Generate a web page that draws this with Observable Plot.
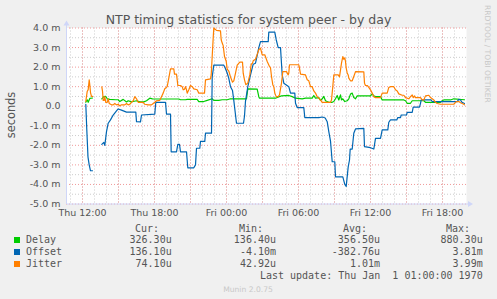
<!DOCTYPE html>
<html><head><meta charset="utf-8">
<script src="https://cdn.jsdelivr.net/npm/d3@7"></script>
<script src="https://cdn.jsdelivr.net/npm/@observablehq/plot@0.6"></script>
<style>
body{margin:0;background:#f0f0f0;}
#wrap{position:relative;width:497px;height:299px;overflow:hidden;background:#f0f0f0;}
#wrap svg{position:absolute;left:0;}
</style></head><body><div id="wrap"></div>
<script>
// Time is in hours since Thu 00:00 (1970-01-01 UTC, a Thursday). Values in milliseconds.
const delayHours = [12.275,12.39,12.475,12.608,12.833,13.2,13.608,13.775,13.94,14.06,14.275,14.775,14.975,15.108,15.392,15.667,15.808,16.083,16.225,16.5,16.775,17.108,17.333,17.608,17.833,20.025,20.167,20.583,20.725,21.558,21.69,22.108,22.392,22.808,22.942,23.358,23.642,24.058,24.333,25.667,25.775,26.558,26.692,26.75,28.083,28.333,28.583,29.192,29.475,29.75,30.308,30.583,31.142,31.275,31.417,31.692,31.833,31.975,32.108,32.25,32.525,32.808,32.942,33.083,33.225,33.358,33.5,33.583,33.692,33.858,34.058,34.192,34.333,34.475,34.608,34.75,34.892,36.0,36.142,36.275,36.417,36.833,36.975,38.775,38.917,39.058,39.333,39.475,40.442,40.583,41.833,41.975,42.108,42.667,42.942,43.833];
const delayValues = [0.2,0.33,0.2,0.4,0.42,null,0.38,0.49,0.5,0.38,0.35,0.33,0.33,0.24,0.35,0.22,0.28,0.22,0.24,0.28,0.22,0.22,0.28,0.41,0.38,0.37,0.33,0.33,0.35,0.35,0.24,0.24,0.3,0.38,0.3,0.3,0.33,0.33,0.38,0.38,0.89,0.87,0.49,0.41,0.41,0.47,0.53,0.55,0.49,0.41,0.38,0.41,0.41,0.55,0.41,0.44,0.3,0.38,0.5,0.28,0.2,0.2,0.24,0.38,0.55,0.32,0.58,0.32,0.38,0.24,0.28,0.38,0.62,0.67,0.44,0.38,0.53,0.53,0.63,0.53,0.49,0.49,0.32,0.32,0.28,0.15,0.15,0.28,0.28,0.2,0.2,0.28,0.32,0.32,0.38,0.33];

const offsetHours = [12.275,12.358,12.458,12.558,12.667,12.833,13.2,13.608,13.775,13.858,14.0,14.142,14.333,14.558,14.833,14.975,15.25,15.667,16.442,16.5,16.833,16.917,18.025,18.108,18.917,19.0,19.333,19.39,19.833,19.942,20.083,20.167,20.667,20.775,21.275,21.417,21.5,21.775,21.833,22.19,22.25,22.75,22.808,22.942,23.775,23.89,24.058,24.19,24.333,24.5,24.608,24.833,25.417,25.5,25.583,25.775,26.0,26.225,26.417,26.558,26.692,26.833,27.475,27.525,28.025,28.142,28.308,28.5,28.642,28.775,29.192,29.333,29.69,29.75,29.892,30.442,30.525,31.692,32.0,32.225,32.392,32.525,32.667,32.808,33.025,33.083,33.692,33.858,33.975,34.142,34.25,34.308,34.475,34.608,34.75,35.442,35.5,36.0,36.275,36.417,36.833,36.975,37.442,37.525,37.667,38.19,38.275,38.5,38.558,39.0,39.058,39.475,39.558,40.083,40.167,40.225,41.058,41.142,43.225,43.358,43.5,43.625,43.833];
const offsetValues = [0.1,-1.2,-2.6,-3.0,-3.3,-3.3,null,-1.95,-1.85,-2.0,-1.3,-0.87,-0.7,-0.45,-0.24,-0.14,-0.2,-0.3,-0.3,-0.79,-0.8,-0.45,-0.4,0.2,0.2,-0.4,-0.4,-2.33,-2.33,-1.95,-1.95,-2.33,-2.33,-3.15,-3.15,-3.0,-2.15,-2.15,-1.8,-1.8,-1.38,-1.38,1.5,2.1,2.1,1.95,1.7,1.43,1.0,0.8,0.3,-0.87,-0.87,-0.5,0.25,1.0,1.6,2.15,2.2,2.6,3.0,3.3,3.3,3.79,3.79,3.4,3.0,3.0,1.6,1.18,1.0,0.67,0.67,0.15,-0.07,-0.07,-0.58,-0.58,-0.55,-0.6,-0.79,-1.3,-1.78,-2.84,-2.84,-3.61,-3.61,-4.0,-4.1,-3.1,-2.75,-2.19,-2.19,-1.38,-1.16,-1.13,-2.07,-2.12,-2.19,-1.64,-1.64,-1.21,-1.21,-0.82,-0.7,-0.7,-0.58,-0.58,-0.45,-0.45,-0.31,-0.31,-0.05,-0.05,0.15,0.32,0.32,0.24,0.24,0.35,0.32,0.2,0.14];

const jitterHours = [12.275,12.39,12.475,12.558,12.608,12.667,12.75,12.833,13.2,13.608,13.667,13.725,13.808,13.858,13.94,14.06,14.142,14.225,14.417,14.558,14.69,14.833,14.975,15.108,15.25,15.525,15.667,15.808,15.94,16.083,16.225,16.358,16.5,16.642,17.058,17.19,17.475,17.75,17.892,18.025,18.167,18.442,18.583,18.722,18.858,19.058,19.192,19.333,19.608,19.667,19.833,19.892,19.942,20.167,20.308,20.392,20.5,20.583,20.667,20.725,20.858,21.0,21.142,21.275,21.558,21.69,22.167,22.25,22.667,22.725,22.808,22.892,22.942,23.167,23.5,23.558,23.642,23.725,23.833,23.975,24.058,24.19,24.333,24.5,24.608,24.75,24.892,25.108,25.333,25.392,25.5,25.608,25.775,25.942,26.058,26.167,26.225,26.417,26.558,26.692,26.833,26.975,27.19,27.392,27.583,27.667,27.75,27.858,27.942,28.025,28.142,28.308,28.417,28.583,28.692,29.0,29.142,29.192,29.25,30.025,30.083,30.167,30.583,30.725,30.858,31.0,31.142,31.275,31.417,31.558,31.692,31.833,31.975,32.667,32.75,32.858,32.942,33.308,33.417,33.583,33.692,33.775,33.858,33.917,33.975,34.058,34.142,34.192,34.333,34.475,34.608,34.75,35.442,35.5,35.583,35.725,35.858,36.0,36.142,36.275,36.417,36.833,36.975,37.392,37.525,37.667,37.942,38.083,38.225,38.358,38.642,38.775,38.917,39.192,39.333,39.475,39.558,39.667,39.75,40.167,40.308,40.442,40.583,40.858,41.0,41.142,41.275,41.417,41.558,41.833,42.942,43.083,43.225,43.358,43.5,43.775,43.833];
const jitterValues = [0.25,0.75,0.85,1.35,1.1,0.7,0.5,0.5,null,0.99,0.77,0.3,0.3,0.49,0.2,0.2,0.38,0.14,0.07,0.07,0.14,0.07,0.1,0.02,0.07,0.07,0.14,0.07,0.1,0.2,0.28,0.49,0.38,0.2,0.2,0.1,0.07,0.07,0.14,0.2,0.28,0.3,0.49,0.67,0.89,1.0,1.44,1.91,1.91,1.64,1.64,1.35,1.06,1.06,1.0,0.84,0.87,1.0,0.84,0.67,0.84,1.06,1.0,0.89,0.84,0.67,0.67,1.35,1.4,1.6,2.54,3.49,4.0,3.88,3.85,3.4,3.23,3.1,2.54,2.3,1.9,1.8,1.5,1.23,1.3,1.69,2.1,2.26,2.26,1.69,1.35,1.1,1.18,1.6,2.15,2.2,2.32,2.4,2.65,2.89,2.97,2.63,2.63,2.29,2.03,1.97,1.52,1.1,1.0,0.67,0.49,0.49,0.58,1.18,1.77,1.77,1.6,1.7,2.12,2.12,1.95,1.64,1.6,1.35,1.3,1.0,1.0,0.78,0.67,0.49,0.41,0.32,0.2,0.2,0.32,1.0,1.6,1.6,1.5,2.2,2.54,2.4,2.47,2.29,1.95,1.7,1.6,1.44,1.3,1.3,1.52,1.77,1.76,1.18,1.06,1.06,0.96,0.84,0.67,0.49,0.44,0.44,0.67,0.67,0.96,1.0,1.0,0.84,0.78,0.63,0.56,0.56,0.44,0.38,0.49,0.58,0.44,0.53,0.44,0.44,0.32,0.32,0.53,0.56,0.44,0.38,0.32,0.2,0.14,0.1,0.1,0.2,0.24,0.24,0.18,0.1,0.07];

const seriesNames = ["Delay", "Offset", "Jitter"];
const seriesColors = ["#00cc00", "#0066b3", "#ff8000"];
const seriesHours = [delayHours, offsetHours, jitterHours];
const seriesValues = [delayValues, offsetValues, jitterValues];

const xStartHour = 10 + 40/60, xEndHour = 44;
const xLabelHours = [12, 18, 24, 30, 36, 42];
const xMajorHours = d3.range(12, 43, 3);
const xMinorHours = d3.range(11, 44, 1);
const yTicks = d3.range(-5, 5, 1);
const yMinor = d3.range(-4.5, 4, 1);

const legendHeaders = ["Cur:", "Min:", "Avg:", "Max:"];
const legendCur = ["326.30u", "136.10u", "74.10u"];
const legendMin = ["136.40u", "-4.10m", "42.92u"];
const legendAvg = ["356.50u", "-382.76u", "1.01m"];
const legendMax = ["880.30u", "3.81m", "3.99m"];
const titleText = "NTP timing statistics for system peer - by day";
const yLabelText = "seconds";
const lastUpdateText = "Last update: Thu Jan  1 01:00:00 1970";
const footerText = "Munin 2.0.75";
const sideText = "RRDTOOL / TOBI OETIKER";

const toDate = h => new Date(h * 3600e3);
const rows = [];
seriesNames.forEach((name, i) => {
  seriesHours[i].forEach((h, j) => rows.push({series: name, t: toDate(h), v: seriesValues[i][j]}));
});

const FONT = "DejaVu Sans";
const TEXT = "#555";
const plot = Plot.plot({
  width: 497, height: 220,
  marginLeft: 66, marginRight: 31, marginTop: 27.5, marginBottom: 16.5,
  style: {background: "transparent", fontFamily: FONT, fontSize: "9.5px", color: TEXT, overflow: "visible"},
  x: {type: "utc", domain: [toDate(xStartHour), toDate(xEndHour)], ticks: xLabelHours.map(toDate),
      tickFormat: d3.utcFormat("%a %H:%M"), tickSize: 0, tickPadding: 5, label: null},
  y: {domain: [-5, 4], ticks: yTicks, tickFormat: d => d === 0 ? "0.0" : d.toFixed(1) + " m",
      tickSize: 0, tickPadding: 6, label: null},
  color: {domain: seriesNames, range: seriesColors},
  marks: [
    Plot.frame({fill: "#ffffff", stroke: "none"}),
    Plot.ruleY(yMinor, {stroke: "#cccccc", strokeDasharray: "1,2"}),
    Plot.ruleX(xMinorHours.map(toDate), {stroke: "#cccccc", strokeDasharray: "1,2"}),
    Plot.ruleY(yTicks, {stroke: "#f09a9a", strokeDasharray: "1,2"}),
    Plot.ruleX(xMajorHours.map(toDate), {stroke: "#f09a9a", strokeDasharray: "1,2"}),
    Plot.line(rows, {x: "t", y: "v", z: "series", stroke: "series", strokeWidth: 1.2, curve: "linear"})
  ]
});
plot.style.top = "0px";
document.getElementById("wrap").appendChild(plot);

// decorations using the plot's own scales
const xr = plot.scale("x").range, yr = plot.scale("y").range;
const x0 = Math.min(...xr), x1 = Math.max(...xr), yb = Math.max(...yr), yt = Math.min(...yr);
const svg = d3.select(plot);
const AX = "#cfd6f8";
svg.append("line").attr("x1", x0 + 0.5).attr("x2", x1 + 4).attr("y1", yb + 0.5).attr("y2", yb + 0.5).attr("stroke", AX);
svg.append("line").attr("x1", x0 + 0.5).attr("x2", x0 + 0.5).attr("y1", yb + 0.5).attr("y2", yt - 4).attr("stroke", AX);
svg.append("path").attr("d", `M${x1 + 7},${yb + 0.5}L${x1 + 2},${yb - 2.5}L${x1 + 2},${yb + 3.5}Z`).attr("fill", AX);
svg.append("path").attr("d", `M${x0 + 0.5},${yt - 7}L${x0 - 2.5},${yt - 2}L${x0 + 3.5},${yt - 2}Z`).attr("fill", AX);
svg.append("text").text(titleText).attr("x", 248.5).attr("y", 24).attr("text-anchor", "middle")
  .attr("font-family", FONT).attr("font-size", "12.5px").attr("fill", TEXT);
svg.append("text").text(yLabelText).attr("transform", "translate(15,115) rotate(-90)").attr("text-anchor", "middle")
  .attr("font-family", FONT).attr("font-size", "11.4px").attr("fill", TEXT);
svg.append("text").text(sideText).attr("transform", "translate(484.5,5) rotate(90)").attr("text-anchor", "start")
  .attr("font-family", FONT).attr("font-size", "7.6px").attr("fill", "#c8c8c8");

// legend below the chart
const top0 = 220;
const leg = d3.select("#wrap").append("svg").attr("width", 497).attr("height", 79).style("top", top0 + "px");
const g = leg.append("g").attr("transform", `translate(0,${-top0})`)
  .attr("font-family", "DejaVu Sans Mono").attr("font-size", "10px").attr("fill", TEXT);
const headerRight = [159, 263, 367, 470];
const valueRight = [171.7, 276, 380, 482.7];
legendHeaders.forEach((h, i) => g.append("text").text(h).attr("x", headerRight[i]).attr("y", 231.7).attr("text-anchor", "end"));
const cols = [legendCur, legendMin, legendAvg, legendMax];
seriesNames.forEach((name, i) => {
  const by = 243 + 12 * i;
  g.append("rect").attr("x", 14).attr("y", by - 6).attr("width", 6).attr("height", 6).attr("fill", seriesColors[i]);
  g.append("text").text(name).attr("x", 26).attr("y", by).style("white-space", "pre");
  cols.forEach((c, k) => g.append("text").text(c[i]).attr("x", valueRight[k]).attr("y", by).attr("text-anchor", "end"));
});
g.append("text").text(lastUpdateText).attr("x", 482.7).attr("y", 279.3).attr("text-anchor", "end").attr("xml:space", "preserve").style("white-space", "pre");
g.append("text").text(footerText).attr("x", 248).attr("y", 291.5).attr("text-anchor", "middle")
  .attr("font-family", FONT).attr("font-size", "7.6px").attr("fill", "#c8c8c8");
</script></body></html>
